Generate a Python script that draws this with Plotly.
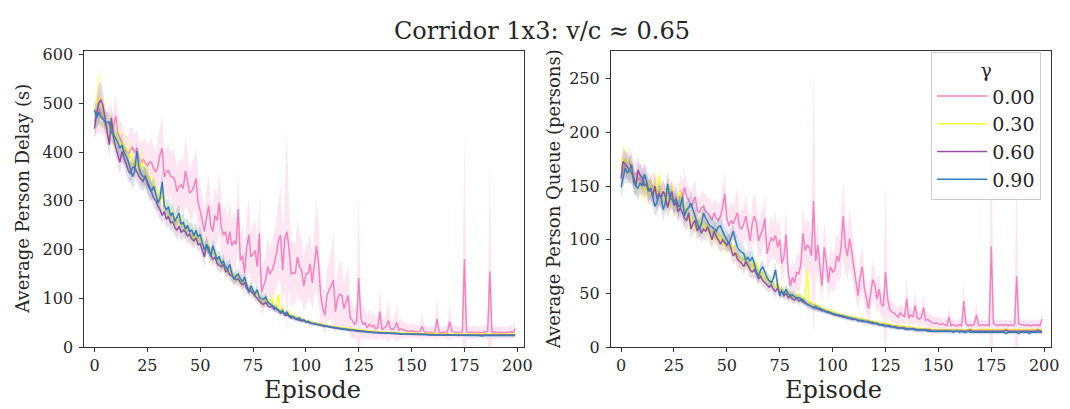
import plotly.graph_objects as go

EPISODES = list(range(200))
GAMMA_LABELS = ["0.00", "0.30", "0.60", "0.90"]
COLORS = ["#f781bf", "#ffff33", "#984ea3", "#377eb8"]
FILLS = ["rgba(247,129,191,0.2)", "rgba(255,255,51,0.2)", "rgba(152,78,163,0.2)", "rgba(55,126,184,0.2)"]

DELAY_G000 = [462, 475, 490, 480, 470, 455, 450, 460, 445, 450,
 474, 440, 428, 420, 408, 400, 395, 405, 410, 398,
 408, 390, 375, 385, 378, 372, 380, 379, 365, 360,
 370, 395, 408, 349, 360, 362, 350, 349, 343, 319,
 330, 333, 325, 362, 340, 316, 320, 330, 346, 296,
 280, 260, 237, 265, 290, 250, 237, 270, 260, 296,
 245, 230, 237, 211, 237, 208, 218, 211, 283, 178,
 188, 152, 204, 231, 185, 191, 198, 165, 234, 112,
 125, 140, 165, 150, 158, 171, 191, 217, 230, 158,
 222, 237, 204, 150, 152, 152, 185, 165, 158, 125,
 150, 152, 171, 132, 170, 208, 171, 106, 80, 66,
 106, 118, 125, 138, 73, 100, 109, 106, 79, 95,
 106, 60, 55, 47, 52, 142, 60, 47, 50, 40,
 47, 42, 45, 38, 40, 73, 36, 40, 42, 55,
 38, 36, 40, 51, 35, 38, 36, 34, 33, 32,
 34, 32, 33, 31, 32, 43, 32, 31, 30, 31,
 31, 30, 58, 32, 30, 31, 30, 32, 53, 33,
 31, 30, 31, 30, 31, 181, 32, 31, 30, 31,
 30, 31, 30, 30, 31, 32, 33, 155, 31, 32,
 31, 30, 31, 30, 30, 31, 30, 32, 30, 38]

DELAY_G030 = [480, 505, 510, 508, 480, 470, 455, 450, 445, 430,
 440, 425, 415, 420, 405, 410, 390, 395, 372, 380,
 375, 360, 378, 372, 355, 345, 350, 335, 330, 322,
 315, 300, 310, 295, 280, 275, 265, 278, 250, 262,
 268, 248, 255, 238, 244, 235, 230, 222, 236, 218,
 225, 212, 205, 198, 208, 190, 196, 186, 176, 182,
 168, 170, 158, 162, 150, 148, 142, 150, 136, 138,
 130, 138, 124, 120, 118, 112, 108, 112, 98, 96,
 95, 92, 88, 96, 100, 85, 80, 110, 75, 80,
 70, 68, 72, 64, 66, 60, 62, 58, 57, 56,
 54, 55, 52, 51, 50, 49, 48, 48, 46, 45,
 45, 44, 43, 42, 42, 41, 40, 40, 39, 39,
 38, 38, 37, 37, 36, 36, 35, 35, 34, 34,
 33, 33, 33, 32, 32, 32, 31, 31, 31, 31,
 30, 30, 30, 30, 30, 29, 29, 29, 29, 29,
 29, 28, 28, 28, 28, 28, 28, 28, 28, 28,
 28, 28, 27, 27, 27, 27, 27, 27, 27, 27,
 27, 27, 27, 27, 26, 27, 27, 27, 27, 27,
 27, 27, 26, 27, 27, 27, 27, 26, 27, 27,
 27, 27, 27, 26, 27, 27, 27, 27, 26, 27]

DELAY_G060 = [448, 480, 500, 507, 495, 470, 440, 415, 470, 430,
 410, 395, 379, 401, 390, 375, 362, 356, 368, 370,
 360, 350, 345, 340, 352, 335, 325, 318, 305, 300,
 290, 282, 270, 278, 262, 268, 255, 257, 245, 240,
 248, 235, 240, 237, 228, 232, 222, 218, 224, 210,
 212, 200, 185, 211, 196, 190, 180, 185, 172, 168,
 165, 170, 155, 158, 148, 146, 142, 138, 140, 132,
 128, 132, 120, 118, 115, 110, 104, 100, 95, 90,
 88, 92, 85, 82, 84, 78, 80, 74, 70, 72,
 66, 68, 64, 60, 62, 58, 57, 56, 54, 55,
 52, 51, 50, 48, 48, 47, 46, 45, 44, 43,
 43, 42, 41, 41, 40, 39, 38, 38, 37, 37,
 36, 35, 35, 34, 34, 33, 33, 33, 32, 32,
 31, 31, 31, 30, 30, 30, 29, 29, 29, 29,
 28, 28, 28, 28, 27, 27, 27, 27, 27, 27,
 26, 26, 26, 26, 26, 26, 26, 26, 26, 26,
 26, 25, 26, 26, 25, 26, 25, 26, 25, 25,
 25, 25, 25, 25, 25, 25, 25, 25, 25, 25,
 25, 25, 25, 24, 25, 25, 25, 25, 25, 25,
 25, 25, 25, 25, 25, 24, 25, 25, 25, 25]

DELAY_G090 = [487, 470, 482, 472, 468, 462, 460, 462, 440, 436,
 428, 420, 408, 414, 398, 392, 380, 362, 350, 360,
 402, 369, 355, 350, 348, 340, 329, 320, 330, 312,
 296, 305, 339, 290, 282, 288, 270, 276, 258, 266,
 275, 252, 256, 242, 250, 236, 241, 228, 240, 226,
 232, 214, 200, 210, 204, 186, 208, 194, 180, 186,
 172, 176, 165, 160, 170, 150, 139, 146, 150, 140,
 134, 144, 128, 112, 126, 116, 110, 118, 102, 100,
 98, 103, 92, 89, 86, 82, 78, 76, 72, 75,
 68, 72, 65, 63, 62, 60, 58, 60, 55, 56,
 52, 53, 50, 49, 48, 47, 46, 46, 44, 43,
 43, 42, 41, 40, 40, 39, 38, 38, 37, 37,
 36, 36, 35, 35, 34, 34, 33, 33, 32, 32,
 31, 31, 31, 30, 30, 30, 29, 29, 29, 29,
 28, 28, 28, 28, 28, 27, 27, 27, 27, 27,
 27, 26, 26, 26, 26, 26, 26, 26, 25, 25,
 25, 25, 25, 25, 25, 25, 25, 24, 25, 25,
 25, 24, 24, 24, 25, 24, 24, 24, 24, 24,
 24, 24, 24, 23, 24, 24, 24, 24, 23, 24,
 24, 24, 23, 24, 24, 24, 23, 24, 24, 24]

DELAY_STD_G000 = [30, 40, 50, 40, 35, 30, 35, 40, 30, 35, 45, 40, 35, 40, 35, 30, 40, 45, 40, 35,
 40, 35, 45, 40, 50, 45, 40, 50, 45, 40, 55, 60, 70, 45, 50, 55, 45, 60, 55, 50,
 55, 50, 60, 70, 55, 50, 60, 55, 65, 60, 55, 50, 45, 60, 65, 50, 55, 60, 50, 65,
 55, 50, 55, 50, 60, 55, 60, 50, 80, 55, 60, 50, 70, 75, 55, 60, 65, 50, 80, 45,
 50, 55, 60, 55, 60, 65, 70, 80, 100, 70, 90, 210, 80, 70, 65, 60, 75, 70, 60, 55,
 60, 60, 70, 55, 65, 90, 80, 60, 45, 40, 55, 60, 70, 100, 45, 55, 65, 70, 50, 60,
 60, 40, 35, 30, 35, 175, 40, 35, 30, 25, 30, 25, 28, 22, 25, 50, 20, 22, 25, 45,
 20, 18, 22, 40, 18, 20, 18, 15, 14, 14, 15, 14, 14, 13, 14, 30, 14, 13, 12, 13,
 13, 12, 45, 13, 12, 13, 12, 14, 40, 14, 13, 12, 13, 12, 13, 270, 14, 13, 12, 13,
 12, 13, 12, 12, 13, 14, 15, 225, 16, 14, 13, 12, 13, 12, 12, 13, 12, 14, 12, 20]

DELAY_STD_G030 = [30, 45, 60, 55, 35, 30, 28, 25, 30, 28, 25, 30, 28, 25, 30, 28, 25, 30, 28, 25,
 28, 25, 30, 28, 25, 22, 25, 28, 22, 25, 20, 22, 25, 20, 22, 20, 18, 22, 20, 18,
 20, 18, 20, 18, 16, 18, 20, 16, 18, 16, 15, 16, 18, 15, 16, 14, 15, 16, 14, 15,
 14, 15, 13, 14, 12, 13, 12, 14, 12, 11, 12, 11, 12, 10, 11, 10, 10, 11, 9, 10,
 9, 9, 8, 10, 12, 8, 8, 15, 7, 8, 6, 6, 6, 5, 5, 5, 5, 5, 5, 4,
 4, 4, 4, 4, 4, 4, 4, 4, 3, 3, 3, 3, 3, 3, 3, 3, 3, 3, 3, 3,
 3, 3, 3, 3, 3, 3, 3, 3, 3, 3, 3, 3, 3, 3, 3, 3, 3, 3, 3, 3,
 3, 3, 3, 3, 2, 3, 3, 2, 3, 3, 3, 2, 3, 3, 2, 3, 3, 2, 3, 2,
 3, 2, 3, 2, 2, 3, 2, 2, 3, 2, 2, 3, 2, 2, 2, 3, 2, 2, 2, 2,
 2, 3, 2, 2, 2, 2, 3, 2, 2, 2, 2, 2, 3, 2, 2, 2, 2, 2, 2, 3]

DELAY_STD_G060 = [22, 30, 40, 35, 30, 25, 22, 25, 30, 22, 20, 22, 25, 22, 20, 18, 22, 20, 18, 22,
 20, 18, 22, 20, 18, 20, 22, 18, 20, 18, 18, 20, 18, 16, 18, 20, 16, 18, 16, 18,
 16, 18, 16, 15, 16, 18, 15, 16, 15, 14, 15, 16, 18, 15, 14, 15, 14, 13, 14, 13,
 13, 14, 12, 13, 12, 11, 12, 11, 12, 10, 11, 10, 10, 9, 10, 9, 9, 8, 9, 8,
 8, 8, 7, 8, 7, 7, 7, 6, 6, 6, 6, 5, 5, 5, 5, 5, 4, 4, 4, 4,
 4, 4, 4, 4, 3, 3, 3, 3, 3, 3, 3, 3, 3, 3, 3, 3, 3, 3, 3, 3,
 3, 3, 3, 3, 3, 3, 3, 3, 3, 3, 3, 3, 3, 2, 3, 3, 2, 3, 3, 2,
 3, 2, 3, 2, 2, 3, 2, 2, 3, 2, 2, 2, 3, 2, 2, 2, 2, 3, 2, 2,
 2, 2, 2, 3, 2, 2, 2, 2, 2, 2, 3, 2, 2, 2, 2, 2, 2, 2, 3, 2,
 2, 2, 2, 2, 2, 3, 2, 2, 2, 2, 2, 2, 2, 2, 3, 2, 2, 2, 2, 2]

DELAY_STD_G090 = [20, 22, 25, 20, 18, 20, 22, 18, 20, 22, 18, 20, 22, 25, 20, 18, 22, 20, 25, 22,
 20, 22, 18, 20, 22, 25, 20, 18, 20, 22, 18, 20, 22, 20, 18, 20, 22, 18, 20, 18,
 18, 16, 18, 20, 16, 18, 16, 18, 15, 16, 18, 16, 15, 18, 16, 15, 14, 16, 15, 14,
 14, 15, 13, 14, 12, 14, 12, 13, 12, 11, 12, 11, 10, 11, 10, 10, 9, 10, 9, 9,
 8, 9, 8, 8, 7, 8, 7, 7, 6, 7, 6, 6, 6, 5, 5, 5, 5, 5, 4, 4,
 4, 4, 4, 4, 4, 4, 4, 3, 3, 3, 3, 3, 3, 3, 3, 3, 3, 3, 3, 3,
 3, 3, 3, 3, 3, 2, 3, 3, 2, 3, 3, 2, 3, 2, 3, 2, 2, 3, 2, 2,
 2, 3, 2, 2, 2, 2, 3, 2, 2, 2, 2, 2, 2, 3, 2, 2, 2, 2, 2, 2,
 2, 2, 2, 2, 3, 2, 2, 2, 2, 2, 2, 2, 2, 2, 2, 2, 3, 2, 2, 2,
 2, 2, 2, 2, 2, 2, 2, 2, 2, 3, 2, 2, 2, 2, 2, 2, 2, 2, 2, 2]

QUEUE_G000 = [160, 165, 170, 168, 172, 165, 160, 162, 155, 158,
 152, 155, 150, 148, 145, 150, 148, 140, 145, 142,
 140, 138, 145, 140, 142, 135, 140, 130, 146, 138,
 149, 140, 137, 130, 135, 140, 128, 125, 130, 131,
 126, 125, 122, 118, 125, 120, 118, 122, 130, 143,
 120, 113, 118, 115, 120, 125, 112, 110, 115, 122,
 110, 99, 115, 122, 116, 99, 105, 110, 120, 87,
 95, 102, 99, 104, 93, 100, 78, 84, 105, 70,
 57, 65, 60, 70, 68, 77, 106, 90, 95, 93,
 85, 136, 80, 95, 75, 57, 93, 80, 60, 75,
 70, 72, 85, 80, 93, 122, 95, 85, 101, 90,
 75, 60, 48, 65, 75, 55, 45, 36, 50, 63,
 58, 45, 54, 40, 38, 70, 45, 35, 33, 32,
 30, 28, 32, 30, 28, 45, 27, 30, 28, 39,
 27, 26, 28, 37, 25, 26, 24, 23, 22, 23,
 22, 21, 22, 21, 20, 28, 20, 21, 20, 20,
 21, 20, 43, 22, 20, 21, 20, 22, 30, 21,
 20, 21, 20, 21, 20, 94, 22, 21, 20, 21,
 21, 20, 21, 20, 21, 20, 21, 66, 22, 21,
 21, 20, 21, 20, 20, 21, 20, 21, 20, 26]

QUEUE_G030 = [165, 176, 172, 175, 160, 165, 158, 155, 152, 150,
 148, 145, 152, 140, 155, 145, 150, 142, 160, 138,
 135, 145, 140, 130, 150, 135, 128, 140, 145, 130,
 125, 130, 118, 122, 115, 110, 118, 112, 120, 108,
 115, 110, 105, 112, 100, 108, 98, 105, 95, 100,
 92, 98, 90, 95, 85, 88, 80, 78, 85, 76,
 80, 72, 78, 70, 80, 68, 65, 70, 62, 66,
 60, 62, 58, 55, 60, 52, 55, 50, 52, 48,
 50, 46, 48, 45, 50, 44, 46, 42, 72, 40,
 42, 38, 40, 37, 38, 35, 36, 34, 35, 33,
 33, 32, 31, 31, 30, 30, 29, 29, 28, 28,
 28, 27, 27, 26, 26, 26, 25, 25, 24, 24,
 24, 23, 23, 22, 22, 22, 21, 21, 21, 20,
 20, 20, 20, 19, 19, 19, 19, 18, 18, 18,
 18, 18, 17, 17, 17, 17, 17, 17, 16, 16,
 16, 16, 17, 16, 16, 16, 16, 16, 16, 17,
 16, 16, 16, 16, 16, 17, 16, 16, 16, 16,
 16, 16, 16, 17, 16, 16, 16, 16, 16, 16,
 16, 17, 16, 16, 16, 16, 16, 16, 17, 16,
 16, 16, 16, 16, 17, 16, 16, 16, 16, 16]

QUEUE_G060 = [157, 173, 170, 168, 165, 162, 158, 150, 165, 160,
 158, 150, 152, 145, 148, 140, 150, 138, 142, 140,
 145, 140, 130, 138, 145, 132, 135, 126, 130, 125,
 120, 118, 125, 110, 115, 118, 108, 112, 106, 110,
 108, 112, 105, 100, 108, 103, 100, 96, 100, 98,
 95, 98, 92, 85, 88, 82, 80, 78, 75, 80,
 76, 72, 70, 72, 68, 64, 66, 62, 60, 58,
 56, 58, 54, 52, 55, 50, 52, 48, 50, 46,
 48, 45, 44, 46, 43, 44, 42, 41, 40, 39,
 38, 37, 36, 36, 35, 34, 34, 33, 32, 32,
 31, 30, 30, 29, 29, 28, 28, 27, 27, 26,
 26, 26, 25, 25, 24, 24, 24, 23, 23, 22,
 22, 22, 21, 21, 21, 20, 20, 20, 19, 19,
 19, 18, 18, 18, 18, 17, 17, 17, 17, 17,
 16, 16, 16, 16, 16, 16, 16, 15, 15, 15,
 15, 15, 15, 15, 15, 15, 15, 15, 15, 15,
 15, 15, 15, 15, 15, 16, 15, 15, 15, 15,
 15, 15, 15, 15, 15, 15, 15, 15, 15, 15,
 15, 15, 16, 15, 15, 15, 15, 15, 15, 15,
 15, 15, 15, 15, 15, 15, 15, 16, 15, 15]

QUEUE_G090 = [149, 158, 167, 162, 165, 170, 153, 150, 148, 153,
 150, 161, 155, 146, 148, 140, 131, 135, 143, 138,
 128, 135, 152, 140, 137, 135, 138, 132, 131, 140,
 122, 128, 130, 134, 128, 122, 118, 110, 115, 125,
 120, 116, 113, 112, 110, 108, 112, 113, 108, 104,
 100, 96, 102, 108, 100, 93, 90, 88, 87, 81,
 84, 80, 84, 78, 70, 66, 72, 75, 69, 65,
 62, 60, 64, 72, 58, 48, 52, 50, 54, 50,
 48, 49, 47, 46, 46, 45, 44, 42, 40, 39,
 38, 37, 38, 36, 36, 35, 34, 33, 33, 32,
 31, 31, 30, 30, 29, 29, 28, 28, 27, 27,
 26, 26, 25, 25, 25, 24, 24, 24, 23, 23,
 22, 22, 21, 21, 20, 20, 20, 19, 19, 19,
 18, 18, 18, 18, 17, 17, 17, 17, 17, 16,
 16, 16, 16, 16, 16, 15, 15, 15, 15, 15,
 15, 15, 15, 15, 15, 15, 15, 14, 15, 15,
 14, 15, 14, 14, 15, 14, 14, 14, 14, 14,
 14, 14, 14, 14, 14, 14, 14, 14, 14, 14,
 14, 14, 13, 14, 14, 14, 14, 14, 13, 14,
 14, 14, 14, 13, 14, 14, 14, 14, 14, 14]

QUEUE_STD_G000 = [12, 15, 14, 12, 15, 14, 12, 13, 14, 12, 13, 15, 12, 14, 13, 12, 14, 15, 13, 12,
 14, 12, 15, 14, 13, 15, 14, 12, 16, 14, 15, 14, 13, 15, 14, 16, 13, 14, 15, 14,
 15, 14, 16, 15, 14, 16, 15, 14, 18, 20, 16, 15, 18, 16, 20, 22, 16, 15, 18, 20,
 18, 16, 20, 22, 18, 16, 20, 18, 22, 15, 18, 20, 16, 22, 18, 20, 16, 18, 25, 14,
 14, 16, 15, 18, 16, 20, 28, 22, 25, 24, 22, 125, 20, 25, 18, 15, 24, 20, 16, 20,
 18, 20, 22, 20, 25, 35, 25, 22, 28, 22, 20, 16, 14, 18, 22, 16, 14, 12, 15, 18,
 16, 14, 16, 12, 12, 85, 13, 10, 10, 9, 8, 8, 9, 8, 8, 20, 8, 8, 8, 15,
 8, 7, 8, 14, 7, 7, 7, 6, 6, 6, 6, 6, 6, 6, 5, 10, 5, 6, 5, 5,
 5, 5, 18, 6, 5, 5, 5, 5, 12, 5, 5, 5, 5, 5, 5, 140, 5, 5, 5, 5,
 5, 5, 5, 5, 5, 5, 5, 115, 5, 5, 5, 5, 5, 5, 5, 5, 5, 5, 5, 10]

QUEUE_STD_G030 = [12, 14, 13, 12, 11, 12, 11, 10, 12, 11, 10, 12, 11, 10, 12, 11, 10, 14, 11, 10,
 11, 10, 12, 11, 10, 11, 10, 12, 11, 10, 10, 11, 10, 9, 10, 11, 9, 10, 11, 9,
 10, 9, 10, 9, 8, 9, 10, 8, 9, 8, 9, 8, 9, 8, 9, 8, 7, 8, 9, 7,
 8, 7, 8, 7, 8, 7, 6, 7, 6, 7, 6, 6, 7, 6, 6, 5, 6, 5, 5, 5,
 5, 4, 5, 4, 5, 4, 4, 4, 9, 4, 4, 3, 4, 3, 3, 3, 3, 3, 3, 3,
 3, 3, 3, 2, 3, 2, 2, 2, 2, 2, 2, 2, 2, 2, 2, 2, 2, 2, 2, 2,
 2, 2, 2, 2, 2, 2, 2, 2, 2, 2, 2, 2, 2, 2, 2, 2, 2, 2, 2, 2,
 2, 2, 2, 2, 2, 2, 2, 2, 2, 2, 2, 2, 2, 2, 2, 2, 2, 2, 2, 2,
 2, 2, 2, 2, 2, 2, 2, 2, 2, 2, 2, 2, 2, 2, 2, 2, 2, 2, 2, 2,
 2, 2, 2, 2, 2, 2, 2, 2, 2, 2, 2, 2, 2, 2, 2, 2, 2, 2, 2, 2]

QUEUE_STD_G060 = [11, 13, 12, 11, 12, 10, 11, 10, 12, 10, 11, 10, 9, 11, 10, 9, 11, 10, 9, 10,
 10, 9, 10, 11, 9, 10, 9, 10, 9, 10, 9, 10, 9, 8, 9, 10, 8, 9, 8, 9,
 9, 8, 9, 8, 9, 8, 7, 8, 9, 8, 7, 8, 7, 8, 7, 8, 7, 6, 7, 7,
 6, 7, 6, 7, 6, 6, 5, 6, 5, 6, 5, 5, 6, 5, 5, 4, 5, 4, 5, 4,
 4, 4, 4, 3, 4, 3, 3, 3, 3, 3, 3, 3, 3, 3, 3, 2, 3, 2, 2, 2,
 2, 2, 2, 2, 2, 2, 2, 2, 2, 2, 2, 2, 2, 2, 2, 2, 2, 2, 2, 2,
 2, 2, 2, 2, 2, 2, 2, 2, 2, 2, 2, 2, 2, 2, 2, 2, 2, 2, 2, 2,
 2, 2, 2, 2, 2, 2, 2, 2, 2, 2, 2, 2, 2, 2, 2, 2, 2, 2, 2, 2,
 2, 2, 2, 2, 2, 2, 2, 2, 2, 2, 2, 2, 2, 2, 2, 2, 2, 2, 2, 2,
 2, 2, 2, 2, 2, 2, 2, 2, 2, 2, 2, 2, 2, 2, 2, 2, 2, 2, 2, 2]

QUEUE_STD_G090 = [10, 12, 11, 10, 12, 11, 10, 9, 11, 10, 9, 10, 11, 9, 10, 11, 9, 10, 11, 10,
 10, 9, 11, 10, 9, 10, 11, 9, 10, 9, 10, 9, 10, 11, 9, 10, 9, 8, 10, 9,
 9, 8, 9, 10, 8, 9, 8, 9, 8, 9, 8, 9, 8, 7, 8, 9, 8, 7, 8, 7,
 7, 8, 7, 6, 7, 6, 7, 6, 6, 5, 6, 5, 6, 7, 5, 5, 5, 4, 5, 4,
 4, 4, 4, 4, 3, 4, 3, 3, 3, 3, 3, 3, 3, 3, 3, 2, 2, 2, 2, 2,
 2, 2, 2, 2, 2, 2, 2, 2, 2, 2, 2, 2, 2, 2, 2, 2, 2, 2, 2, 2,
 2, 2, 2, 2, 2, 2, 2, 2, 2, 2, 2, 2, 2, 2, 2, 2, 2, 2, 2, 2,
 2, 2, 2, 2, 2, 2, 2, 2, 2, 2, 2, 2, 2, 2, 2, 2, 2, 2, 2, 2,
 2, 2, 2, 2, 2, 2, 2, 2, 2, 2, 2, 2, 2, 2, 2, 2, 2, 2, 2, 2,
 2, 2, 2, 2, 2, 2, 2, 2, 2, 2, 2, 2, 2, 2, 2, 2, 2, 2, 2, 2]

DELAY = [DELAY_G000, DELAY_G030, DELAY_G060, DELAY_G090]
DELAY_STD = [DELAY_STD_G000, DELAY_STD_G030, DELAY_STD_G060, DELAY_STD_G090]
QUEUE = [QUEUE_G000, QUEUE_G030, QUEUE_G060, QUEUE_G090]
QUEUE_STD = [QUEUE_STD_G000, QUEUE_STD_G030, QUEUE_STD_G060, QUEUE_STD_G090]

FONT = "DejaVu Serif"
TXT = "#262626"
W, H = 1070, 409

fig = go.Figure()


def add_panel(means, stds, xa, ya, legend):
    for i in range(4):
        m, s = means[i], stds[i]
        upper = [a + b for a, b in zip(m, s)]
        lower = [a - b for a, b in zip(m, s)]
        fig.add_trace(go.Scatter(
            x=EPISODES + EPISODES[::-1], y=upper + lower[::-1],
            fill="toself", fillcolor=FILLS[i], line=dict(width=0),
            mode="lines", hoverinfo="skip", showlegend=False,
            xaxis=xa, yaxis=ya))
        fig.add_trace(go.Scatter(
            x=EPISODES, y=m, mode="lines", name=GAMMA_LABELS[i],
            line=dict(color=COLORS[i], width=1.5),
            showlegend=legend, xaxis=xa, yaxis=ya))


add_panel(DELAY, DELAY_STD, "x", "y", True)
add_panel(QUEUE, QUEUE_STD, "x2", "y2", False)

axis_common = dict(
    showline=True, linecolor="#333333", linewidth=1, mirror=True,
    ticks="outside", ticklen=4, tickcolor="#333333",
    showgrid=False, zeroline=False,
    tickfont=dict(family=FONT, size=16, color=TXT),
)

y_dom = [(H - 347) / H, (H - 39) / H]
xticks = [0, 25, 50, 75, 100, 125, 150, 175, 200]
fig.update_layout(
    width=W, height=H,
    margin=dict(l=0, r=0, t=0, b=0),
    paper_bgcolor="white", plot_bgcolor="white",
    xaxis=dict(domain=[77 / W, 520 / W], range=[-4.8, 203], tickvals=xticks, anchor="y", **axis_common),
    yaxis=dict(domain=y_dom, range=[0, 608], tickvals=[0, 100, 200, 300, 400, 500, 600], anchor="x",
               ticklabelstandoff=3, **axis_common),
    xaxis2=dict(domain=[608 / W, 1052 / W], range=[-4.8, 203.3], tickvals=xticks, anchor="y2", **axis_common),
    yaxis2=dict(domain=y_dom, range=[0, 276], tickvals=[0, 50, 100, 150, 200, 250], anchor="x2",
                ticklabelstandoff=3, **axis_common),
    legend=dict(
        x=931 / W, y=1 - 40 / H, xanchor="left", yanchor="top",
        bgcolor="rgba(255,255,255,0.8)", bordercolor="#cccccc", borderwidth=1,
        font=dict(family=FONT, size=19, color=TXT),
        itemwidth=50, entrywidth=56,
        title=dict(text="γ", side="top center", font=dict(family=FONT, size=19, color=TXT)),
    ),
    showlegend=True,
)

annots = [
    dict(text="Corridor 1x3: v/c \u2248 0.65", x=539 / W, y=1 - 19 / H, size=24, angle=0),
    dict(text="Average Person Delay (s)", x=15 / W, y=1 - 193 / H, size=18, angle=-90),
    dict(text="Average Person Queue (persons)", x=551 / W, y=1 - 193 / H, size=18, angle=-90),
    dict(text="Episode", x=307 / W, y=1 - 391 / H, size=24, angle=0),
    dict(text="Episode", x=832 / W, y=1 - 391 / H, size=24, angle=0),
]
for a in annots:
    fig.add_annotation(text=a["text"], x=a["x"], y=a["y"], xref="paper", yref="paper",
                       xanchor="center", yanchor="middle", showarrow=False, textangle=a["angle"],
                       font=dict(family=FONT, size=a["size"], color=TXT))

fig.write_html("out.html")
